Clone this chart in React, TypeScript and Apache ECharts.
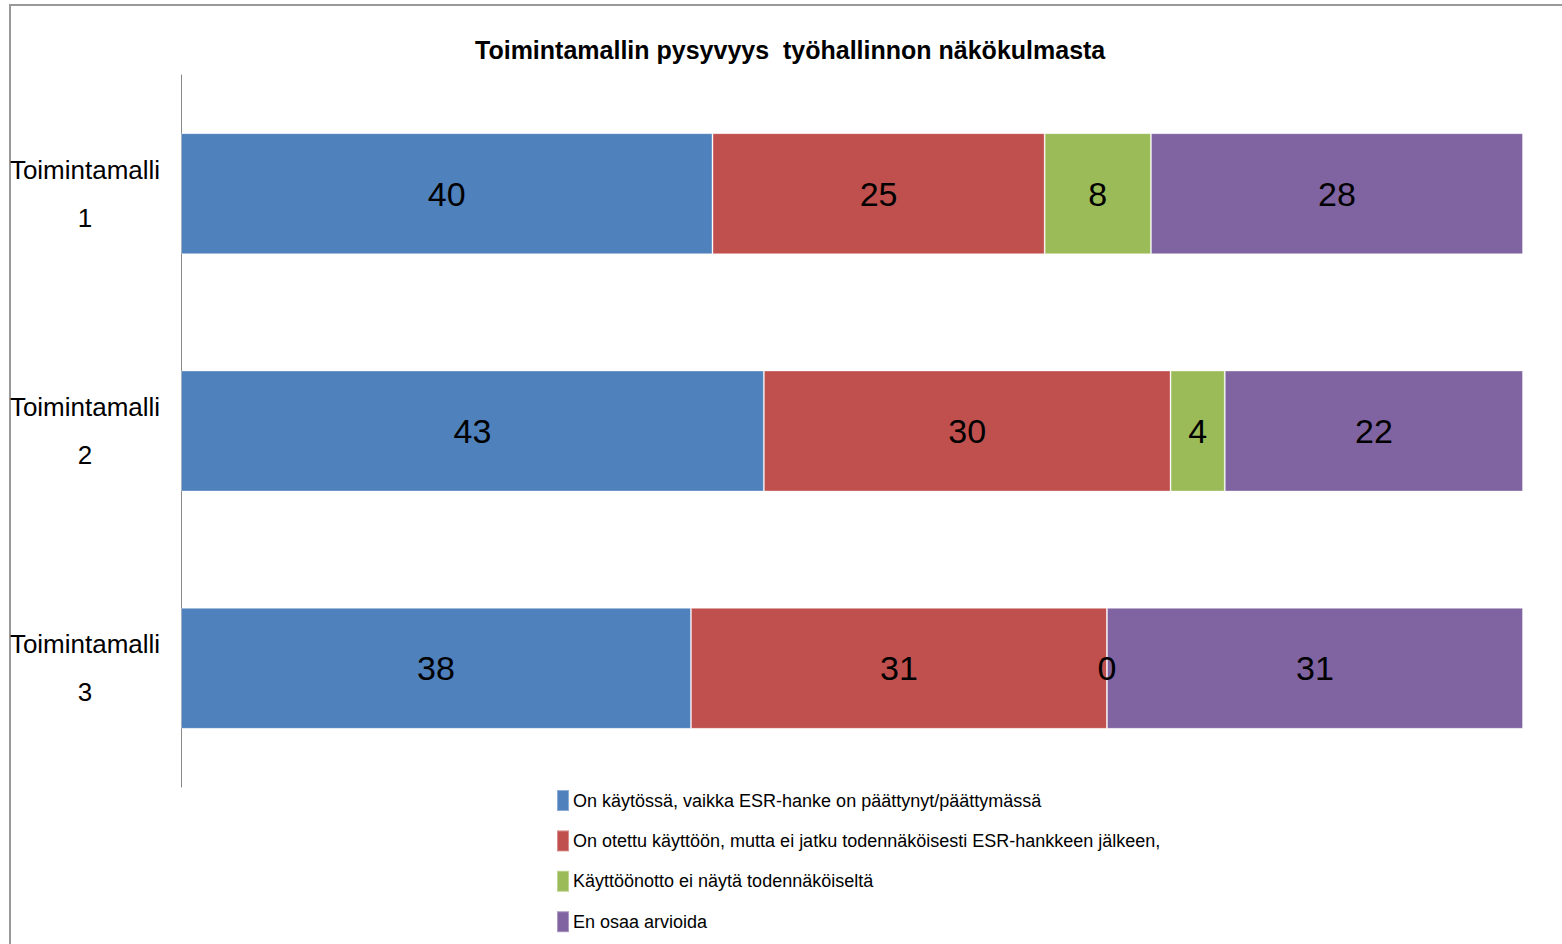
import React, { useEffect, useRef } from "react";
import * as echarts from "echarts";

const categories = ["Toimintamalli\n1", "Toimintamalli\n2", "Toimintamalli\n3"];
const seriesNames = [
  "On käytössä, vaikka ESR-hanke on päättynyt/päättymässä",
  "On otettu käyttöön, mutta ei jatku todennäköisesti ESR-hankkeen jälkeen,",
  "Käyttöönotto ei näytä todennäköiseltä",
  "En osaa arvioida",
];
const inUse = [40, 43, 38];
const notContinuing = [25, 30, 31];
const unlikely = [8, 4, 0];
const cannotSay = [28, 22, 31];
const colors = ["#4F81BD", "#C0504D", "#9BBB59", "#8064A2"];
const title = "Toimintamallin pysyvyys  työhallinnon näkökulmasta";

const FONT = "'Liberation Sans Narrow', 'Arial Narrow', 'Liberation Sans', Arial, sans-serif";

export default function App() {
  const ref = useRef<HTMLDivElement>(null);
  useEffect(() => {
    document.body.style.margin = "0";
    if (!ref.current) return;
    const chart = echarts.init(ref.current, undefined, { renderer: "svg" });
    const raw = [inUse, notContinuing, unlikely, cannotSay];
    const totals = categories.map((_, i) => raw.reduce((s, arr) => s + arr[i], 0));
    const series = raw.map((arr, si) => ({
      name: seriesNames[si],
      type: "bar",
      stack: "total",
      barWidth: 121,
      itemStyle: { color: colors[si], borderColor: "rgba(255,255,255,0.35)", borderWidth: 1 },
      label: {
        show: true,
        position: "inside",
        color: "#000",
        fontFamily: FONT,
        fontSize: 34,
        formatter: (p: any) => String(arr[p.dataIndex]),
      },
      data: arr.map((v, i) => (v / totals[i]) * 100),
    }));
    const legends = seriesNames.map((name, i) => ({
      orient: "vertical",
      left: 556,
      top: 789 + i * 40.4,
      padding: 0,
      icon: "rect",
      itemWidth: 12,
      itemHeight: 21,
      textStyle: { fontFamily: FONT, fontSize: 18, color: "#000", padding: [0, 0, 0, -1] },
      data: [name],
    }));
    chart.setOption({
      animation: false,
      backgroundColor: "#fff",
      title: {
        text: title,
        left: 470,
        top: 32,
        textStyle: { fontFamily: FONT, fontWeight: "bold", fontSize: 25, color: "#000" },
      },
      graphic: [
        {
          type: "rect",
          shape: { x: 10, y: 5, width: 1600, height: 1000 },
          style: { fill: "none", stroke: "#999", lineWidth: 2 },
          silent: true,
        },
      ],
      legend: legends,
      grid: { left: 181, right: 39, top: 75, bottom: 157, containLabel: false, outerBoundsMode: "none" },
      xAxis: { type: "value", min: 0, max: 100, show: false },
      yAxis: {
        type: "category",
        inverse: true,
        data: categories,
        axisLine: { show: true, lineStyle: { color: "#888", width: 1 } },
        axisTick: { show: false },
        axisLabel: {
          fontFamily: FONT,
          fontSize: 26,
          lineHeight: 48,
          color: "#000",
          align: "center",
          margin: 96,
        },
      },
      series,
    });
    return () => chart.dispose();
  }, []);
  return <div ref={ref} style={{ width: 1562, height: 944 }} />;
}
